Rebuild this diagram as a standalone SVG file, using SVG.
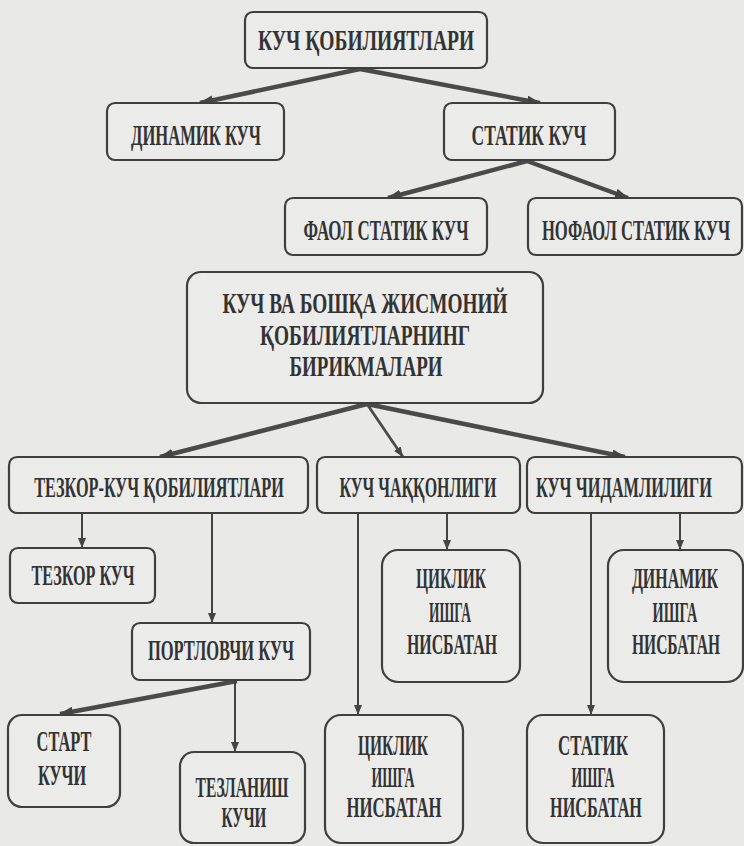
<svg xmlns="http://www.w3.org/2000/svg" width="744" height="846" viewBox="0 0 744 846">
<defs>
<style>
.bg{fill:#e9e9e7}
.box{fill:#ebebea;stroke:#3f3f3f;stroke-width:2.2}
.t{font-family:"Liberation Serif","Times New Roman",serif;font-weight:bold;font-size:30px;fill:#333;text-anchor:middle}
.thick{stroke:#4a4a4a;stroke-width:4.5;fill:none}
.mid{stroke:#4a4a4a;stroke-width:2.8;fill:none}
.thin{stroke:#444;stroke-width:2;fill:none}
</style>
<marker id="ah" markerUnits="userSpaceOnUse" markerWidth="14" markerHeight="10" refX="13" refY="5" orient="auto">
<path d="M0,0 L14,5 L0,10 z" fill="#444"/>
</marker>
<marker id="as" markerUnits="userSpaceOnUse" markerWidth="10" markerHeight="8" refX="10" refY="4" orient="auto">
<path d="M0,0 L10,4 L0,8 z" fill="#444"/>
</marker>
</defs>
<rect class="bg" x="0" y="0" width="744" height="846"/>

<g id="connectors">
<line class="thick" x1="360" y1="69" x2="200" y2="103" marker-end="url(#ah)"/>
<line class="thick" x1="360" y1="69" x2="540" y2="103" marker-end="url(#ah)"/>
<line class="thick" x1="527" y1="161" x2="388" y2="198" marker-end="url(#ah)"/>
<line class="thick" x1="527" y1="161" x2="628" y2="198" marker-end="url(#ah)"/>
<line class="thick" x1="367" y1="404" x2="160" y2="457" marker-end="url(#ah)"/>
<line class="mid" x1="367" y1="404" x2="403" y2="457" marker-end="url(#as)"/>
<line class="thick" x1="367" y1="404" x2="625" y2="457" marker-end="url(#ah)"/>
<line class="thin" x1="82" y1="514" x2="82" y2="548" marker-end="url(#as)"/>
<line class="thin" x1="212" y1="514" x2="212" y2="623" marker-end="url(#as)"/>
<line class="thin" x1="358" y1="514" x2="358" y2="715" marker-end="url(#as)"/>
<line class="thin" x1="447" y1="514" x2="447" y2="550" marker-end="url(#as)"/>
<line class="thin" x1="591" y1="514" x2="591" y2="715" marker-end="url(#as)"/>
<line class="thin" x1="680" y1="514" x2="680" y2="550" marker-end="url(#as)"/>
<line class="thick" x1="237" y1="681" x2="60" y2="714" marker-end="url(#ah)"/>
<line class="thin" x1="235" y1="681" x2="235" y2="752" marker-end="url(#as)"/>
</g>

<g id="n-kuch-qobiliyatlari">
<rect class="box" x="245" y="12" width="242" height="56" rx="8"/>
<text class="t" transform="translate(366 50) scale(0.56 1)" textLength="386" lengthAdjust="spacingAndGlyphs">КУЧ ҚОБИЛИЯТЛАРИ</text>
</g>
<g id="n-dinamik-kuch">
<rect class="box" x="107" y="103" width="177" height="57" rx="8"/>
<text class="t" transform="translate(196 145) scale(0.56 1)" textLength="232" lengthAdjust="spacingAndGlyphs">ДИНАМИК КУЧ</text>
</g>
<g id="n-statik-kuch">
<rect class="box" x="444" y="103" width="171" height="57" rx="8"/>
<text class="t" transform="translate(529 145) scale(0.56 1)" textLength="205" lengthAdjust="spacingAndGlyphs">СТАТИК КУЧ</text>
</g>
<g id="n-faol">
<rect class="box" x="285" y="198" width="202" height="57" rx="8"/>
<text class="t" transform="translate(386 240) scale(0.56 1)" textLength="295" lengthAdjust="spacingAndGlyphs">ФАОЛ СТАТИК КУЧ</text>
</g>
<g id="n-nofaol">
<rect class="box" x="528" y="198" width="214" height="57" rx="8"/>
<text class="t" transform="translate(636 240) scale(0.56 1)" textLength="336" lengthAdjust="spacingAndGlyphs">НОФАОЛ СТАТИК КУЧ</text>
</g>
<g id="n-birikmalari">
<rect class="box" x="187" y="272" width="356" height="131" rx="14"/>
<text class="t" transform="translate(365 313) scale(0.56 1)" textLength="509" lengthAdjust="spacingAndGlyphs">КУЧ ВА БОШҚА ЖИСМОНИЙ</text>
<text class="t" transform="translate(365 345) scale(0.56 1)" textLength="375" lengthAdjust="spacingAndGlyphs">ҚОБИЛИЯТЛАРНИНГ</text>
<text class="t" transform="translate(366 376) scale(0.56 1)" textLength="273" lengthAdjust="spacingAndGlyphs">БИРИКМАЛАРИ</text>
</g>
<g id="n-tezkor-kuch-qobiliyatlari">
<rect class="box" x="9" y="457" width="299" height="56" rx="8"/>
<text class="t" transform="translate(159 497) scale(0.56 1)" textLength="446" lengthAdjust="spacingAndGlyphs">ТЕЗКОР-КУЧ ҚОБИЛИЯТЛАРИ</text>
</g>
<g id="n-chaqqonligi">
<rect class="box" x="317" y="457" width="203" height="56" rx="8"/>
<text class="t" transform="translate(418 497) scale(0.56 1)" textLength="280" lengthAdjust="spacingAndGlyphs">КУЧ ЧАҚҚОНЛИГИ</text>
</g>
<g id="n-chidamliligi">
<rect class="box" x="527" y="457" width="215" height="56" rx="8"/>
<text class="t" transform="translate(624 497) scale(0.56 1)" textLength="314" lengthAdjust="spacingAndGlyphs">КУЧ ЧИДАМЛИЛИГИ</text>
</g>
<g id="n-tezkor-kuch">
<rect class="box" x="10" y="548" width="145" height="55" rx="8"/>
<text class="t" transform="translate(83 585) scale(0.56 1)" textLength="184" lengthAdjust="spacingAndGlyphs">ТЕЗКОР КУЧ</text>
</g>
<g id="n-portlovchi">
<rect class="box" x="132" y="623" width="178" height="57" rx="8"/>
<text class="t" transform="translate(221 660) scale(0.56 1)" textLength="261" lengthAdjust="spacingAndGlyphs">ПОРТЛОВЧИ КУЧ</text>
</g>
<g id="n-siklik-1">
<rect class="box" x="382" y="550" width="138" height="132" rx="16"/>
<text class="t" transform="translate(451 588) scale(0.56 1)" textLength="125" lengthAdjust="spacingAndGlyphs">ЦИКЛИК</text>
<text class="t" transform="translate(450 622) scale(0.56 1)" textLength="75" lengthAdjust="spacingAndGlyphs">ИШГА</text>
<text class="t" transform="translate(452 654) scale(0.56 1)" textLength="161" lengthAdjust="spacingAndGlyphs">НИСБАТАН</text>
</g>
<g id="n-dinamik-ishga">
<rect class="box" x="608" y="550" width="135" height="132" rx="16"/>
<text class="t" transform="translate(675 588) scale(0.56 1)" textLength="154" lengthAdjust="spacingAndGlyphs">ДИНАМИК</text>
<text class="t" transform="translate(675 622) scale(0.56 1)" textLength="80" lengthAdjust="spacingAndGlyphs">ИШГА</text>
<text class="t" transform="translate(676 654) scale(0.56 1)" textLength="157" lengthAdjust="spacingAndGlyphs">НИСБАТАН</text>
</g>
<g id="n-start">
<rect class="box" x="8" y="715" width="112" height="92" rx="14"/>
<text class="t" transform="translate(64 751) scale(0.56 1)" textLength="98" lengthAdjust="spacingAndGlyphs">СТАРТ</text>
<text class="t" transform="translate(62 785) scale(0.56 1)" textLength="86" lengthAdjust="spacingAndGlyphs">КУЧИ</text>
</g>
<g id="n-tezlanish">
<rect class="box" x="180" y="752" width="125" height="91" rx="14"/>
<text class="t" transform="translate(242 797) scale(0.56 1)" textLength="166" lengthAdjust="spacingAndGlyphs">ТЕЗЛАНИШ</text>
<text class="t" transform="translate(244 827) scale(0.56 1)" textLength="80" lengthAdjust="spacingAndGlyphs">КУЧИ</text>
</g>
<g id="n-siklik-2">
<rect class="box" x="325" y="715" width="138" height="128" rx="16"/>
<text class="t" transform="translate(393 755) scale(0.56 1)" textLength="125" lengthAdjust="spacingAndGlyphs">ЦИКЛИК</text>
<text class="t" transform="translate(393 787) scale(0.56 1)" textLength="77" lengthAdjust="spacingAndGlyphs">ИШГА</text>
<text class="t" transform="translate(394 817) scale(0.56 1)" textLength="170" lengthAdjust="spacingAndGlyphs">НИСБАТАН</text>
</g>
<g id="n-statik-ishga">
<rect class="box" x="527" y="715" width="137" height="128" rx="16"/>
<text class="t" transform="translate(593 755) scale(0.56 1)" textLength="125" lengthAdjust="spacingAndGlyphs">СТАТИК</text>
<text class="t" transform="translate(593 787) scale(0.56 1)" textLength="77" lengthAdjust="spacingAndGlyphs">ИШГА</text>
<text class="t" transform="translate(596 817) scale(0.56 1)" textLength="164" lengthAdjust="spacingAndGlyphs">НИСБАТАН</text>
</g>
</svg>
